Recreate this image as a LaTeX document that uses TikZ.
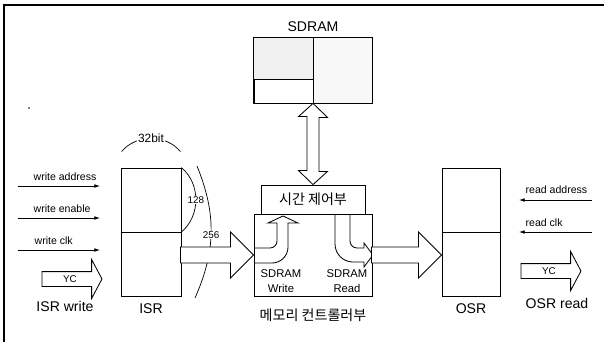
\documentclass[tikz,border=0pt]{standalone}
\usepackage{fontspec}
\setmainfont{Liberation Sans}
\newfontfamily\krfont{Noto Sans CJK KR}
\usetikzlibrary{arrows.meta,positioning,calc,shapes.arrows}
\definecolor{cellFill}{HTML}{F0F0F0}
\tikzset{
  boxLine/.style={line width=0.6pt},
  regbox/.style={draw, boxLine, minimum width=1.5cm, minimum height=3.2cm, inner sep=0pt},
  membox/.style={draw, boxLine, fill=white, inner sep=0pt},
  fatArrow/.style={draw, boxLine, fill=white, line join=miter},
  bendArrow/.style={draw, boxLine},
  sigArrow/.style={-{Latex[length=4pt,width=2.6pt]}, line width=0.5pt},
  sigLabel/.style={font=\fontsize{7.5}{8}\selectfont, inner sep=1pt},
  ycArrow/.style={single arrow, draw, boxLine, single arrow head extend=0.3cm,
    single arrow tip angle=124, minimum height=1.5cm, inner ysep=2.5pt,
    inner xsep=1pt, font=\fontsize{7}{8}\selectfont},
  regLabel/.style={font=\fontsize{10}{12}\selectfont},
  krLabel/.style={font=\krfont\fontsize{10}{12}\selectfont},
  bitLabel/.style={font=\fontsize{7}{8}\selectfont, fill=white, inner sep=0.5pt},
  dimArc/.style={line width=0.5pt},
  smallText/.style={font=\fontsize{8}{10.7}\selectfont, align=center, inner sep=0pt},
}
\begin{document}
\begin{tikzpicture}[x=0.025cm, y=-0.025cm]
    \useasboundingbox (0,0) rectangle (604,342);
    \draw[line width=0.9pt] (4,342) -- (4,5) -- (604,5);
    \fill (29,108) circle (0.6pt);
    % registers
    \node[regbox] (isr) at (151,232) {};
    \draw[boxLine] (isr.west) -- (isr.east);
    \node[regLabel, below=1.5pt of isr] (isrlbl) {ISR};
    \node[regbox, minimum width=1.45cm] (osr) at (471,232) {};
    \draw[boxLine] (osr.west) -- (osr.east);
    \node[regLabel, below=1.5pt of osr] (osrlbl) {OSR};
    % width marks
    \draw[dimArc] ($(isr.north west)+(1,-16)$) to[bend left=50]
      node[bitLabel, font=\fontsize{8.5}{9}\selectfont] (b32) {32bit} ($(isr.north east)+(-1,-16)$);
    \draw[dimArc] (isr.north east) to[bend left=50] node[bitLabel] (b128) {128} (isr.east);
    \draw[dimArc] (197,166) to[bend left=23] node[bitLabel, pos=0.52] (b256) {256} (195,298);
    % memory controller
    \node[membox, minimum width=2.95cm, minimum height=2.05cm] (ctrl) at (313,255) {};
    \node[membox, krLabel, minimum width=2.6cm, minimum height=0.725cm] (timer) at (313,199.5) {시간 제어부};
    \node[krLabel, below=5pt of ctrl] (ctrllbl) {메모리 컨트롤러부};
    \draw[bendArrow] (254,263) -- (272,263) to[out=0,in=-90] (288,247) -- (288,223)
      -- (298,223) -- (283,216) -- (268,223) -- (277,223) -- (277,241)
      to[out=-90,in=0] (270,248) -- (254,248);
    \draw[bendArrow] (335,214) -- (335,244) to[out=-90,in=180] (353,262) -- (364,262)
      -- (364,267) -- (373,255) -- (364,243) -- (364,248) -- (357,248)
      to[out=180,in=-90] (350,241) -- (350,214);
    \node[smallText] (wrlbl) at (281,281) {SDRAM\\Write};
    \node[smallText] (rdlbl) at (347,281) {SDRAM\\Read};
    % sdram
    \node[membox, minimum width=2.95cm, minimum height=1.625cm] (sdram) at (313,70.5) {};
    \fill[cellFill] (sdram.north west) rectangle (313,79);
    \fill[cellFill!45] (sdram.north) rectangle (sdram.south east);
    \draw[boxLine] (sdram.north west) rectangle (sdram.south east);
    \draw[boxLine] (sdram.north) -- (sdram.south);
    \draw[boxLine] (sdram.west |- 0,79) -- (313,79);
    \node[regLabel, above=1pt of sdram] (sdramlbl) {SDRAM};
    % data paths
    \draw[fatArrow] (sdram.south) -- ++(14.5,14) -- ++(-8.5,0) -- ++(0,54) -- ++(8.5,0)
      -- (timer.north) -- ++(-14.5,-14) -- ++(8.5,0) -- ++(0,-54) -- ++(-8.5,0) -- cycle;
    \draw[fatArrow] (ctrl.west) -- ++(-23,-23) -- ++(0,15) -- ++(-50,0) -- ++(0,16)
      -- ++(50,0) -- ++(0,15) -- cycle;
    \draw[fatArrow] (osr.west |- ctrl.east) -- ++(-23,-23) -- ++(0,15) -- ++(-47,0)
      -- ++(0,16) -- ++(47,0) -- ++(0,15) -- cycle;
    % write side
    \node[sigLabel, anchor=west] (waddr) at (32,177) {write address};
    \node[sigLabel, anchor=west] (wen) at (32,209) {write enable};
    \node[sigLabel, anchor=west] (wclk) at (33,241) {write clk};
    \coordinate (waddr-in) at (18,186);
    \coordinate (wen-in) at (18,218);
    \coordinate (wclk-in) at (18,250);
    \draw[sigArrow] (waddr-in) -- ++(82,0);
    \draw[sigArrow] (wen-in) -- ++(82,0);
    \draw[sigArrow] (wclk-in) -- ++(82,0);
    \node[ycArrow] (ycin) at (70,279) {YC};
    \node[regLabel] (isrw) at (65,306) {ISR write};
    % read side
    \node[sigLabel, anchor=west] (raddr) at (524,190) {read address};
    \node[sigLabel, anchor=west] (rclk) at (524,223) {read clk};
    \coordinate (raddr-in) at (592,200);
    \coordinate (rclk-in) at (592,232);
    \draw[sigArrow] (raddr-in) -- ++(-73,0);
    \draw[sigArrow] (rclk-in) -- ++(-73,0);
    \node[ycArrow] (ycout) at (549,271) {YC};
    \node[regLabel] (osrr) at (557,303) {OSR read};
  \end{tikzpicture}
\end{document}
